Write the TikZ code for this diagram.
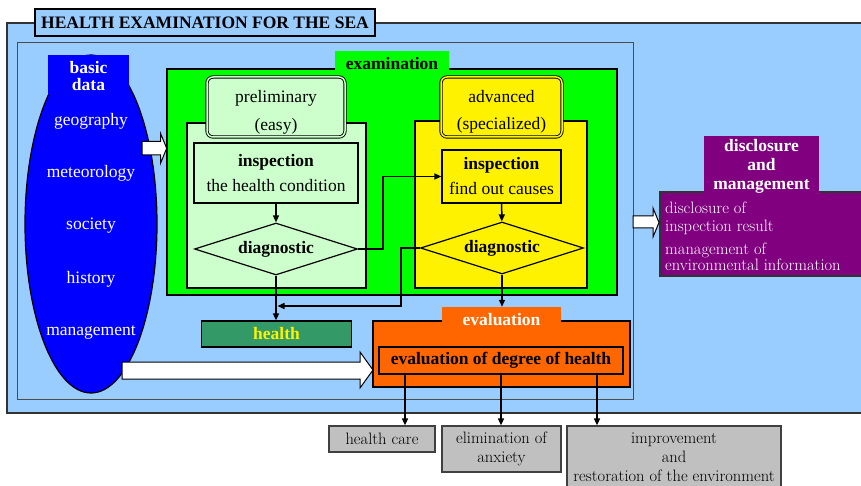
\documentclass[tikz,border=0pt]{standalone}
\usepackage{fontspec}
\newfontfamily\tnr{Liberation Serif}
\usetikzlibrary{shapes.geometric,arrows.meta,calc}

\definecolor{sky}{HTML}{99CCFF}
\definecolor{exgreen}{HTML}{00FF00}
\definecolor{palegreen}{HTML}{CCFFCC}
\definecolor{seagreen}{HTML}{339966}
\definecolor{evorange}{HTML}{FF6600}
\definecolor{dpurple}{HTML}{800080}
\definecolor{lgray}{HTML}{C0C0C0}

\tikzset{
  flow/.style={line width=1.5pt, -{Triangle[length=7pt,width=6pt]}},
  box/.style={draw, line width=1.2pt, inner sep=0pt, align=center},
  reg/.style={font=\tnr\fontsize{17.5}{25}\selectfont, align=center},
  bld/.style={font=\tnr\bfseries\fontsize{17.5}{25}\selectfont},
  cent/.style={font=\fontsize{16.5}{19}\selectfont},
  header/.style={box, double distance=1.5pt, line width=0.9pt, rounded corners=6pt},
  decide/.style={box, diamond, aspect=3},
  tab/.style={inner sep=0pt, minimum height=#1},
}

\begin{document}
\begin{tikzpicture}[x=1pt, y=-1pt]
  \useasboundingbox (0,0) rectangle (861,486);

  % frames
  \filldraw[fill=sky, draw=black!80, line width=2pt] (7,23) rectangle (866,413);
  \filldraw[fill=sky, draw=black!70, line width=1pt] (17,43) rectangle (633,399);
  \node[box, fill=sky, line width=2.2pt, minimum width=340, minimum height=27, bld]
    (title) at (205,22.5) {HEALTH EXAMINATION FOR THE SEA};

  % basic data
  \node[box, ellipse, fill=blue, minimum width=132, minimum height=338] (data) at (91,224) {};
  \node[tab=40, fill=blue, minimum width=81] (basictab) at (88.5,75) {};
  \node[text=white, align=center, font=\tnr\bfseries\fontsize{17.5}{17}\selectfont]
    (basic) at (88.5,76) {basic\\data};
  \foreach \w/\y in {geography/121, meteorology/173, society/226, history/279, management/332}
    \node[reg, text=white] (\w) at (91,\y) {\w};

  % examination
  \node[box, fill=exgreen, minimum width=450, minimum height=226] (exam) at (392,182) {};
  \node[tab=19, fill=exgreen, minimum width=114] (examtab) at (392,60.5) {};
  \node[bld] (examlbl) at (392,64) {examination};
  \filldraw[fill=white, line width=1pt] (142,141.5) -- (160.5,141.5) -- (160.5,133.3)
    -- (166.7,148.3) -- (160.5,163.3) -- (160.5,155) -- (142,155) -- cycle;

  % preliminary
  \node[box, fill=palegreen, minimum width=179, minimum height=165] (prelim) at (276.5,205.5) {};
  \node[header, fill=palegreen, double=palegreen, minimum width=138, minimum height=60] (prelimhd) at (276,107) {};
  \node[font=\tnr\fontsize{17.5}{28}\selectfont, align=center] (prelimtxt) at (276,112) {preliminary\\(easy)};
  \node[box, reg, fill=palegreen, minimum width=164, minimum height=60] (pinsp) at (276,173)
    {{\bfseries inspection}\\the health condition};
  \node[decide, fill=palegreen, minimum width=163, minimum height=52, bld] (pdiag) at (276,249) {diagnostic};

  % advanced
  \node[box, fill=yellow, minimum width=172, minimum height=167] (adv) at (501,204.5) {};
  \node[header, fill=yellow, double=yellow, minimum width=121, minimum height=60] (advhd) at (501.5,107) {};
  \node[font=\tnr\fontsize{17.5}{27}\selectfont, align=center] (advtxt) at (501.5,112) {advanced\\(specialized)};
  \node[box, reg, fill=yellow, minimum width=119, minimum height=53] (yinsp) at (501.5,176.5)
    {{\bfseries inspection}\\find out causes};
  \node[decide, fill=yellow, minimum width=163, minimum height=52, bld] (ydiag) at (502,248) {diagnostic};

  \node[box, fill=seagreen, minimum width=150, minimum height=26, bld, text=yellow] (health) at (276.5,334) {health};

  % evaluation
  \node[box, fill=evorange, minimum width=257, minimum height=66] (eval) at (501.5,354) {};
  \node[tab=16, fill=evorange, minimum width=119] (evaltab) at (501.5,315) {};
  \node[bld, text=white] (evallbl) at (501.5,320) {evaluation};
  \node[box, fill=evorange, minimum width=244, minimum height=27, bld] (evalin) at (501,360.5)
    {evaluation of degree of health};
  \filldraw[fill=white, line width=1pt] (122,362) -- (360,362) -- (360,352)
    -- (373,370) -- (360,388) -- (360,379) -- (122,379) -- cycle;

  % results
  \node[box, draw=black!75, fill=lgray, minimum width=106, minimum height=26, cent] (care) at (382,439) {health care};
  \node[box, draw=black!75, fill=lgray, minimum width=119, minimum height=46, cent] (elim) at (501.5,449)
    {elimination of\\anxiety};
  \node[box, draw=black!75, fill=lgray, minimum width=214, minimum height=62, cent] (improve) at (674,457)
    {improvement\\and\\restoration of the environment};

  % disclosure
  \node[box, draw=black!80, fill=dpurple, minimum width=202, minimum height=84] (discl) at (761,234) {};
  \node[tab=57, fill=dpurple, minimum width=115] (discltab) at (761.5,164.5) {};
  \node[text=white, align=center, font=\tnr\bfseries\fontsize{17.5}{19}\selectfont]
    (disclhd) at (761.5,166) {disclosure\\and\\management};
  \node[text=white, align=left, anchor=west, inner sep=0pt, font=\fontsize{16.5}{18}\selectfont]
    (discltxt) at (665,236) {disclosure of\\inspection result\\[5pt]management of\\[-2pt]environmental information};
  \filldraw[fill=white, line width=1pt] (633,216) -- (653,216) -- (653,208)
    -- (659,222.5) -- (653,237) -- (653,228) -- (633,228) -- cycle;

  % connectors
  \coordinate (merge) at (277.5,306);
  \draw[flow] (pinsp) -- (pdiag);
  \draw[flow] (yinsp) -- (ydiag);
  \draw[flow] (pdiag.east) -- ++(25,0) |- (yinsp.west);
  \draw[flow] (ydiag.west) -- ++(-19,0) |- (merge);
  \draw[flow] (pdiag.south) -- (pdiag.south |- health.north);
  \draw[flow] (ydiag.south) -- (ydiag.south |- evaltab.north);
  \foreach \d/\b in {-96/care, 0/elim, 96/improve}
    \draw[flow] ($(evalin.south)+(\d,0)$) coordinate (e) -- (e |- \b.north);
\end{tikzpicture}
\end{document}
